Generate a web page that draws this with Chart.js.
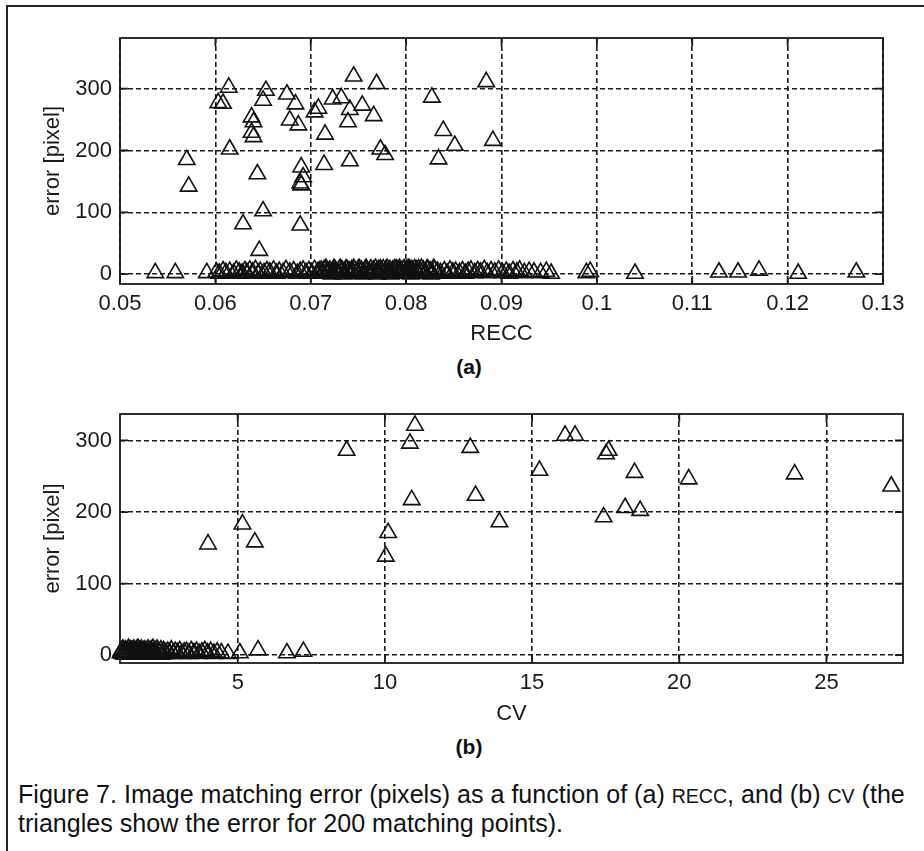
<!DOCTYPE html>
<html lang="en">
<head>
    <meta charset="UTF-8">
    <title>Figure 7 - matching error</title>
    <script src="https://cdn.jsdelivr.net/npm/chart.js"></script>
    <style>
        body { margin: 0; background: #fff; width: 924px; height: 851px; overflow: hidden; position: relative; font-family: 'Liberation Sans', Arial, sans-serif; }
        #frame { position: absolute; left: 6px; top: 5px; width: 930px; height: 860px; border-top: 2px solid #222; border-left: 2px solid #222; }
        canvas { position: absolute; left: 0; }
        #chartA { top: 0; }
        #chartB { top: 380px; }
        .sub { position: absolute; font-weight: bold; font-size: 21px; color: #111; transform: translate(-50%, -50%); }
        #caption { position: absolute; left: 18px; top: 781px; color: #111; line-height: 27px; white-space: nowrap; font-size: 25px; }
        .sc { font-size: 0.78em; }
    </style>
</head>
<body>
    <div id="frame"></div>
    <canvas id="chartA" width="924" height="350"></canvas>
    <canvas id="chartB" width="924" height="350"></canvas>
    <div class="sub" style="left:469px; top:367px;">(a)</div>
    <div class="sub" style="left:469px; top:747px;">(b)</div>
    <div id="caption">
        <span id="line1">Figure 7. Image matching error (pixels) as a function of (a) <span class="sc">RECC</span>, and (b) <span class="sc">CV</span> (the</span><br>
        <span>triangles show the error for 200 matching points).</span>
    </div>

    <script>
        // (a) error against RECC
        const reccX = [
            0.0570, 0.0572, 0.0614, 0.0603, 0.0608, 0.0615, 0.0638, 0.0640, 0.0638, 0.0640,
            0.0644, 0.0650, 0.0629, 0.0646, 0.0653, 0.0650, 0.0675, 0.0684, 0.0678, 0.0687,
            0.0690, 0.0692, 0.0689, 0.0690, 0.0689, 0.0704, 0.0708, 0.0715, 0.0714, 0.0723,
            0.0732, 0.0745, 0.0741, 0.0739, 0.0741, 0.0754, 0.0769, 0.0766, 0.0773, 0.0778,
            0.0827, 0.0839, 0.0834, 0.0851, 0.0884, 0.0891,
            0.0537, 0.0558, 0.0591, 0.0601, 0.0604, 0.0608, 0.0611, 0.0615, 0.0619, 0.0622,
            0.0625, 0.0628, 0.0631, 0.0633, 0.0636, 0.0639, 0.0642, 0.0645, 0.0647, 0.0651,
            0.0654, 0.0657, 0.0661, 0.0664, 0.0667, 0.0671, 0.0674, 0.0678, 0.0682, 0.0686,
            0.0689, 0.0692, 0.0695, 0.0698, 0.0701, 0.0704, 0.0707, 0.0709, 0.0711, 0.0713,
            0.0714, 0.0717, 0.0718, 0.0720, 0.0723, 0.0724, 0.0726, 0.0727, 0.0730, 0.0732,
            0.0733, 0.0736, 0.0737, 0.0739, 0.0740, 0.0743, 0.0744, 0.0746, 0.0749, 0.0750,
            0.0752, 0.0753, 0.0756, 0.0757, 0.0759, 0.0762, 0.0763, 0.0765, 0.0766, 0.0769,
            0.0771, 0.0772, 0.0774, 0.0776, 0.0778, 0.0779, 0.0782, 0.0783, 0.0785, 0.0786,
            0.0789, 0.0790, 0.0792, 0.0794, 0.0795, 0.0797, 0.0799, 0.0801, 0.0802, 0.0804,
            0.0806, 0.0808, 0.0811, 0.0813, 0.0815, 0.0818, 0.0820, 0.0823, 0.0825, 0.0827,
            0.0830, 0.0833, 0.0836, 0.0840, 0.0843, 0.0846, 0.0849, 0.0852, 0.0856, 0.0859,
            0.0862, 0.0865, 0.0868, 0.0872, 0.0875, 0.0878, 0.0882, 0.0885, 0.0889, 0.0893,
            0.0897, 0.0901, 0.0905, 0.0908, 0.0912, 0.0916, 0.0919, 0.0924, 0.0929, 0.0934,
            0.0941, 0.0947, 0.0952, 0.0989, 0.0993, 0.1040, 0.1128, 0.1148, 0.1170, 0.1211,
            0.1272,
            0.0712, 0.0716, 0.0719, 0.0722, 0.0725, 0.0729, 0.0731, 0.0735, 0.0738, 0.0742,
            0.0745, 0.0748, 0.0751, 0.0755, 0.0758, 0.0761, 0.0764, 0.0768, 0.0770, 0.0773,
            0.0777, 0.0780, 0.0781, 0.0784, 0.0788, 0.0791, 0.0793, 0.0796, 0.0798, 0.0800,
            0.0803, 0.0805, 0.0809, 0.0812, 0.0816, 0.0819, 0.0822, 0.0826, 0.0829, 0.0832
        ];
        const reccErr = [
            185, 142, 302, 277, 276, 202, 254, 246, 229, 222,
            162, 102, 81, 38, 297, 281, 291, 275, 249, 241,
            173, 157, 147, 144, 79, 262, 268, 226, 177, 283,
            285, 320, 266, 246, 183, 273, 308, 256, 202, 193,
            286, 232, 186, 208, 311, 216,
            2, 2, 2, 3, 1, 5, 2, 4, 1, 6,
            3, 1, 5, 2, 6, 3, 7, 1, 4, 2,
            5, 3, 6, 1, 4, 2, 7, 3, 5, 1,
            4, 6, 2, 5, 1, 7, 3, 5, 6, 2,
            7, 4, 1, 6, 3, 8, 5, 2, 7, 4,
            6, 1, 8, 3, 5, 7, 2, 6, 4, 8,
            3, 6, 1, 7, 5, 2, 8, 4, 6, 3,
            7, 2, 5, 8, 4, 6, 1, 7, 3, 6,
            5, 8, 2, 6, 4, 7, 3, 8, 5, 6,
            7, 3, 6, 8, 4, 6, 2, 7, 5, 3,
            6, 4, 2, 5, 1, 6, 3, 4, 2, 5,
            1, 4, 6, 2, 5, 3, 7, 2, 5, 3,
            6, 2, 4, 1, 5, 3, 6, 2, 4, 3,
            2, 4, 1, 2, 4, 1, 3, 3, 6, 1,
            3,
            1, 9, 3, 0, 8, 2, 9, 0, 7, 1,
            9, 2, 8, 0, 9, 3, 1, 9, 0, 8,
            2, 9, 1, 0, 8, 3, 9, 1, 8, 2,
            9, 0, 8, 2, 9, 1, 8, 0, 9, 2
        ];

        // (b) error against CV
        const cvX = [
            8.70, 11.02, 10.85, 10.91, 12.90, 13.08, 5.16, 3.99, 5.58, 10.11,
            10.03, 13.89, 15.25, 16.12, 16.46, 17.60, 17.51, 17.43, 18.16, 18.67,
            18.48, 20.32, 23.92, 27.20,
            1.02, 1.05, 1.08, 1.10, 1.13, 1.15, 1.18, 1.21, 1.23, 1.26,
            1.29, 1.31, 1.34, 1.37, 1.39, 1.42, 1.45, 1.47, 1.50, 1.53,
            1.56, 1.58, 1.61, 1.64, 1.67, 1.70, 1.72, 1.75, 1.79, 1.82,
            1.85, 1.88, 1.91, 1.95, 1.98, 2.01, 2.05, 2.08, 2.12, 2.15,
            2.19, 2.23, 2.26, 2.30, 2.35, 2.39, 2.43, 2.48, 2.52, 2.57,
            2.62, 2.68, 2.74, 2.81, 2.88, 2.95, 3.03, 3.10, 3.18, 3.26,
            3.34, 3.42, 3.51, 3.60, 3.69, 3.78, 3.88, 3.97, 4.08, 4.19,
            4.30, 4.44, 4.67, 5.07, 5.69, 6.67, 7.23
        ];
        const cvErr = [
            286, 321, 296, 217, 290, 223, 183, 155, 158, 171,
            138, 186, 258, 307, 307, 286, 281, 193, 206, 202,
            255, 246, 253, 236,
            3, 6, 2, 8, 4, 1, 7, 5, 2, 6,
            9, 3, 5, 7, 1, 6, 4, 8, 2, 5,
            7, 3, 9, 4, 6, 2, 8, 5, 3, 7,
            1, 6, 4, 8, 2, 5, 7, 3, 9, 4,
            6, 2, 8, 5, 3, 7, 1, 6, 4, 2,
            5, 3, 7, 2, 5, 3, 6, 2, 4, 5,
            2, 6, 3, 5, 2, 4, 6, 3, 5, 2,
            4, 3, 2, 3, 7, 3, 5
        ];

        const reccTicks = [0.05, 0.06, 0.07, 0.08, 0.09, 0.1, 0.11, 0.12, 0.13];
        const cvTicks = [5, 10, 15, 20, 25];
        const errTicks = [0, 100, 200, 300];

        Chart.defaults.font.family = "'Liberation Sans', Arial, sans-serif";
        Chart.defaults.color = '#1a1a1a';

        // matlab style axes box with inward tick marks
        const axesBox = {
            id: 'axesBox',
            afterDraw(chart) {
                const { ctx, chartArea: a, scales: { x, y } } = chart;
                const len = 8;
                ctx.save();
                ctx.strokeStyle = '#1a1a1a';
                ctx.lineWidth = 1.8;
                ctx.strokeRect(a.left, a.top, a.right - a.left, a.bottom - a.top);
                ctx.beginPath();
                x.ticks.forEach(t => {
                    const px = x.getPixelForValue(t.value);
                    ctx.moveTo(px, a.bottom); ctx.lineTo(px, a.bottom - len);
                    ctx.moveTo(px, a.top); ctx.lineTo(px, a.top + len);
                });
                y.ticks.forEach(t => {
                    const py = y.getPixelForValue(t.value);
                    ctx.moveTo(a.left, py); ctx.lineTo(a.left + len, py);
                    ctx.moveTo(a.right, py); ctx.lineTo(a.right - len, py);
                });
                ctx.stroke();
                ctx.restore();
            }
        };

        function makePlot(canvasId, xs, ys, xOpts) {
            const pts = xs.map((v, i) => ({ x: v, y: ys[i] }));
            return new Chart(document.getElementById(canvasId), {
                type: 'scatter',
                data: {
                    datasets: [{
                        data: pts,
                        pointStyle: 'triangle',
                        pointRadius: 9.5,
                        pointBorderWidth: 1.6,
                        borderColor: '#111',
                        backgroundColor: 'rgba(0,0,0,0)',
                        clip: false
                    }]
                },
                options: {
                    responsive: false,
                    animation: false,
                    devicePixelRatio: 1,
                    layout: { padding: xOpts.padding },
                    plugins: { legend: { display: false }, tooltip: { enabled: false } },
                    scales: {
                        x: {
                            type: 'linear',
                            min: xOpts.min,
                            max: xOpts.max,
                            afterBuildTicks: s => { s.ticks = xOpts.ticks.map(v => ({ value: v })); },
                            afterFit: s => { s.height = xOpts.axisHeight; },
                            ticks: {
                                autoSkip: false,
                                maxRotation: 0,
                                padding: 7,
                                font: { size: 22 },
                                callback: v => String(+v.toFixed(2))
                            },
                            grid: { color: '#1a1a1a', lineWidth: 1.6, drawTicks: false },
                            border: { display: false, dash: [5, 3] },
                            title: { display: true, text: xOpts.title, font: { size: 22 }, padding: { top: 0, bottom: 3 } }
                        },
                        y: {
                            type: 'linear',
                            min: xOpts.yMin,
                            max: xOpts.yMax,
                            afterBuildTicks: s => { s.ticks = errTicks.map(v => ({ value: v })); },
                            afterFit: s => { s.width = 90; },
                            ticks: { padding: 8, font: { size: 22 } },
                            grid: { color: '#1a1a1a', lineWidth: 1.6, drawTicks: false },
                            border: { display: false, dash: [5, 3] },
                            title: { display: true, text: 'error [pixel]', font: { size: 22 }, padding: { top: 10, bottom: 0 } }
                        }
                    }
                },
                plugins: [axesBox]
            });
        }

        makePlot('chartA', reccX, reccErr, {
            min: 0.05, max: 0.13, ticks: reccTicks, title: 'RECC',
            yMin: -16, yMax: 382, axisHeight: 66,
            padding: { left: 30, top: 38, right: 41, bottom: 0 }
        });

        makePlot('chartB', cvX, cvErr, {
            min: 1, max: 27.6, ticks: cvTicks, title: 'CV',
            yMin: -11, yMax: 337, axisHeight: 67,
            padding: { left: 30, top: 34, right: 21, bottom: 0 }
        });

        // fit the first caption line to the column width
        const line1 = document.getElementById('line1');
        const cap = document.getElementById('caption');
        const w = line1.getBoundingClientRect().width;
        cap.style.fontSize = (25 * 887 / w).toFixed(2) + 'px';
    </script>
</body>
</html>
